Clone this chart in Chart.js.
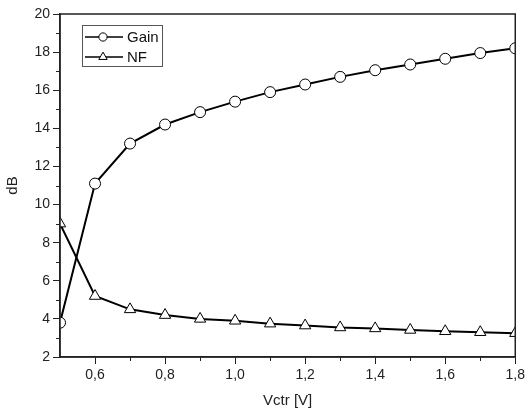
<!DOCTYPE html>
<html>
<head>
<meta charset="utf-8">
<script src="https://cdn.jsdelivr.net/npm/chart.js@4.4.1/dist/chart.umd.min.js"></script>
<style>
  html, body { margin: 0; padding: 0; background: #fff; }
  #wrap { width: 528px; height: 414px; }
</style>
</head>
<body>
<div id="wrap"><canvas id="myChart" width="528" height="414"></canvas></div>
<script>
// control voltage sweep and measured values
const vctr = [0.5, 0.6, 0.7, 0.8, 0.9, 1.0, 1.1, 1.2, 1.3, 1.4, 1.5, 1.6, 1.7, 1.8];
const gain = [3.8, 11.1, 13.2, 14.2, 14.85, 15.4, 15.9, 16.3, 16.7, 17.05, 17.35, 17.65, 17.95, 18.2];
const nf   = [9.0, 5.2, 4.5, 4.2, 4.0, 3.9, 3.75, 3.65, 3.55, 3.5, 3.42, 3.35, 3.3, 3.25];

// axis ticks
const xTicks = [0.6, 0.8, 1.0, 1.2, 1.4, 1.6, 1.8];
const xMinor = [0.7, 0.9, 1.1, 1.3, 1.5, 1.7];
const yTicks = [2, 4, 6, 8, 10, 12, 14, 16, 18, 20];
const yMinor = [3, 5, 7, 9, 11, 13, 15, 17, 19];

const axisColor = '#222';
const fontFamily = '"Liberation Sans", Arial, sans-serif';

function toPoints(ys) {
    return vctr.map((x, i) => ({ x: x, y: ys[i] }));
}

// keep markers inside the plot box (edge markers get cut in half)
const clipBox = {
    id: 'clipBox',
    beforeDatasetsDraw(chart) {
        const { ctx, chartArea: a } = chart;
        ctx.save();
        ctx.beginPath();
        ctx.rect(a.left, a.top, a.right - a.left, a.bottom - a.top);
        ctx.clip();
    },
    afterDatasetsDraw(chart) {
        chart.ctx.restore();
    }
};

// box around the plot + minor ticks
const frame = {
    id: 'frame',
    afterDraw(chart) {
        const { ctx, chartArea: a, scales } = chart;
        ctx.save();
        ctx.strokeStyle = axisColor;
        ctx.lineWidth = 1.5;
        ctx.strokeRect(a.left, a.top, a.right - a.left, a.bottom - a.top);
        ctx.lineWidth = 1;
        ctx.beginPath();
        xMinor.forEach(v => {
            const px = Math.round(scales.x.getPixelForValue(v)) + 0.5;
            ctx.moveTo(px, a.bottom);
            ctx.lineTo(px, a.bottom + 4);
        });
        yMinor.forEach(v => {
            const py = Math.round(scales.y.getPixelForValue(v)) + 0.5;
            ctx.moveTo(a.left, py);
            ctx.lineTo(a.left - 4, py);
        });
        ctx.stroke();
        ctx.restore();
    }
};

// Origin-style legend: line with the marker in the middle
const boxLegend = {
    id: 'boxLegend',
    afterDraw(chart) {
        const ctx = chart.ctx;
        const x0 = 82, y0 = 25, w = 80, h = 41;
        ctx.save();
        ctx.fillStyle = '#fff';
        ctx.fillRect(x0, y0, w, h);
        ctx.strokeStyle = '#555';
        ctx.lineWidth = 1;
        ctx.strokeRect(x0 + 0.5, y0 + 0.5, w, h);
        chart.data.datasets.forEach((ds, i) => {
            const y = y0 + 12 + i * 20;
            ctx.strokeStyle = '#000';
            ctx.lineWidth = 1.5;
            ctx.beginPath();
            ctx.moveTo(x0 + 3, y);
            ctx.lineTo(x0 + 41, y);
            ctx.stroke();
            ctx.fillStyle = '#fff';
            ctx.strokeStyle = '#000';
            ctx.lineWidth = 1;
            Chart.helpers.drawPoint(ctx, {
                pointStyle: ds.pointStyle,
                radius: ds.pointRadius * 0.75,
                rotation: 0,
                borderWidth: 1
            }, x0 + 21, y);
            ctx.fillStyle = '#111';
            ctx.font = '15px ' + fontFamily;
            ctx.textBaseline = 'middle';
            ctx.textAlign = 'left';
            ctx.fillText(ds.label, x0 + 45, y + 1);
        });
        ctx.restore();
    }
};

const ctx = document.getElementById('myChart');
const cht = new Chart(ctx, {
    type: 'line',
    data: {
        datasets: [{
            label: 'Gain',
            data: toPoints(gain),
            borderColor: '#000',
            borderWidth: 2,
            pointStyle: 'circle',
            pointRadius: 5.5,
            pointBackgroundColor: '#fff',
            pointBorderColor: '#000',
            pointBorderWidth: 1,
            clip: 0
        }, {
            label: 'NF',
            data: toPoints(nf),
            borderColor: '#000',
            borderWidth: 2,
            pointStyle: 'triangle',
            pointRadius: 6.5,
            pointBackgroundColor: '#fff',
            pointBorderColor: '#000',
            pointBorderWidth: 1,
            clip: 0
        }]
    },
    options: {
        responsive: false,
        animation: false,
        layout: { padding: { top: 14, right: 10, left: 0, bottom: 0 } },
        plugins: {
            legend: { display: false },
            tooltip: { enabled: false }
        },
        scales: {
            x: {
                type: 'linear',
                min: 0.5,
                max: 1.8,
                afterBuildTicks: (scale) => { scale.ticks = xTicks.map(v => ({ value: v })); },
                afterFit: (scale) => { scale.height = 57; },
                grid: { drawOnChartArea: false, tickLength: 7, color: axisColor, tickWidth: 1 },
                border: { color: axisColor, width: 1.5 },
                ticks: {
                    color: '#222',
                    font: { family: fontFamily, size: 14 },
                    padding: 3,
                    maxRotation: 0,
                    callback: (v) => v.toFixed(1).replace('.', ',')
                },
                title: {
                    display: true,
                    text: 'Vctr [V]',
                    color: '#222',
                    font: { family: fontFamily, size: 15 },
                    padding: { top: 4, bottom: 4 }
                }
            },
            y: {
                min: 2,
                max: 20,
                afterBuildTicks: (scale) => { scale.ticks = yTicks.map(v => ({ value: v })); },
                afterFit: (scale) => { scale.width = 60; },
                grid: { drawOnChartArea: false, tickLength: 7, color: axisColor, tickWidth: 1 },
                border: { color: axisColor, width: 1.5 },
                ticks: {
                    color: '#222',
                    font: { family: fontFamily, size: 14 },
                    padding: 3
                },
                title: {
                    display: true,
                    text: 'dB',
                    color: '#222',
                    font: { family: fontFamily, size: 15 },
                    padding: { top: 4, bottom: 4 }
                }
            }
        }
    },
    plugins: [clipBox, frame, boxLegend]
});
</script>
</body>
</html>
